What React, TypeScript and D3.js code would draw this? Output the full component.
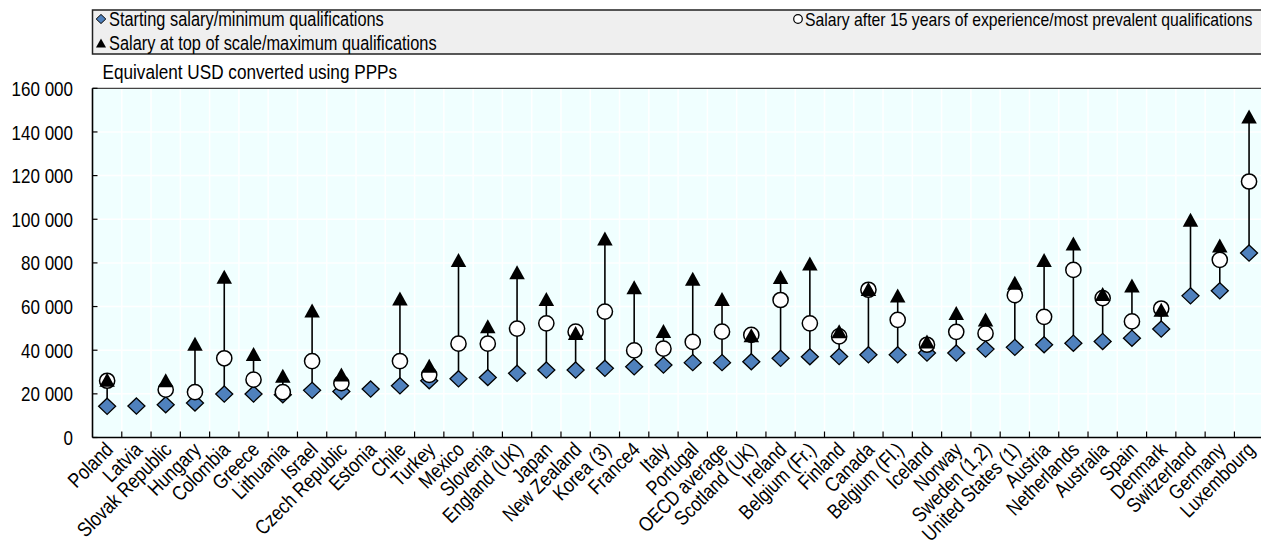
import React from "react";
import * as d3 from "d3";

const countries = [
  "Poland", "Latvia", "Slovak Republic", "Hungary", "Colombia", "Greece", "Lithuania", "Israel",
  "Czech Republic", "Estonia", "Chile", "Turkey", "Mexico", "Slovenia", "England (UK)", "Japan",
  "New Zealand", "Korea (3)", "France4", "Italy", "Portugal", "OECD average", "Scotland (UK)", "Ireland",
  "Belgium (Fr.)", "Finland", "Canada", "Belgium (Fl.)", "Iceland", "Norway", "Sweden (1,2)",
  "United States (1)", "Austria", "Netherlands", "Australia", "Spain", "Denmark", "Switzerland",
  "Germany", "Luxembourg",
];

const startingSalary = [
  14300, 14400, 15000, 15800, 19900, 19900, 19600, 21600, 21100, 22200, 23700, 26000, 26900, 27500,
  29400, 30900, 30900, 31700, 32400, 33200, 34300, 34300, 34700, 36300, 37000, 37100, 37900, 37900,
  38700, 38700, 40500, 41300, 42500, 43200, 44000, 45500, 49700, 64900, 67200, 84500,
];

const salary15 = [
  26000, null, 21900, 20800, 36300, 26500, 20800, 35000, 24900, null, 35000, 28700, 43000, 43000,
  49900, 52300, 48500, 57700, 39900, 40700, 43800, 48500, 47000, 63000, 52300, 46300, 67700, 53900,
  42500, 48400, 47700, 65200, 55300, 76800, 63900, 53200, 59100, null, 81400, 117300,
];

const salaryTop = [
  26500, null, 26200, 42900, 73600, 38300, 28300, 58200, 28900, null, 63700, 32900, 81300, 51000,
  75700, 63500, 47900, 91200, 68900, 48800, 72700, 63500, 46800, 73500, 79700, 48700, 68000, 65100,
  44000, 57100, 54100, 70900, 81300, 88900, 65700, 69700, 58500, 99800, 88000, 147100,
];

const yTicks = [0, 20000, 40000, 60000, 80000, 100000, 120000, 140000, 160000];

const legendLabels = [
  "Starting salary/minimum qualifications",
  "Salary after 15 years of experience/most prevalent qualifications",
  "Salary at top of scale/maximum qualifications",
];
const titleText = "Equivalent USD converted using PPPs";

const W = 1261;
const H = 545;
const FONT = "'Liberation Sans', Arial, sans-serif";
const BLUE = "#4F81BD";

const fmt = d3.formatLocale({ decimal: ".", thousands: " ", grouping: [3], currency: ["", ""] }).format(",");

function T(props: {
  x: number; y: number; size: number; sx: number; anchor?: string; rotate?: number; dy?: string; children: any;
}) {
  const { x, y, size, sx, anchor, rotate, dy, children } = props;
  return (
    <text
      transform={`translate(${x},${y})${rotate ? ` rotate(${rotate})` : ""} scale(${sx},1)`}
      fontSize={size}
      fontFamily={FONT}
      textAnchor={anchor || "start"}
      dy={dy}
      fill="#000"
    >
      {children}
    </text>
  );
}

const diamondPath = (s: number) => `M0,${-s * 0.95}L${s},0L0,${s * 0.95}L${-s},0Z`;
const trianglePath = (w: number, h: number) => `M0,${-h / 2}L${w / 2},${h / 2}L${-w / 2},${h / 2}Z`;

export default function App() {
  const left = 92.5, right = 1263.7, top = 88.3, bottom = 437.5;
  const x = d3.scaleBand<string>().domain(countries).range([left, right]).paddingInner(0).paddingOuter(0);
  const y = d3.scaleLinear().domain([0, 160000]).range([bottom, top]);
  const bw = x.bandwidth();
  const boundaries = countries.map((c) => (x(c) as number) + bw).slice(0, -1);

  return (
    <svg width={W} height={H} style={{ position: "absolute", left: 0, top: 0 }}>
      {/* Legend */}
      <rect x={92.5} y={10} width={1180} height={44} fill="#EFEFEF" stroke="#222" strokeWidth={1.5} />
      <path d={diamondPath(4.8)} transform="translate(101,19)" fill={BLUE} stroke="#000" strokeWidth={1} />
      <T x={109} y={25.5} size={19.5} sx={0.84}>{legendLabels[0]}</T>
      <circle cx={798} cy={19} r={4.3} fill="#fff" stroke="#000" strokeWidth={1.2} />
      <T x={805} y={25.5} size={19} sx={0.83}>{legendLabels[1]}</T>
      <path d={trianglePath(10, 9)} transform="translate(101,43)" fill="#000" />
      <T x={109} y={49.5} size={19.5} sx={0.84}>{legendLabels[2]}</T>

      {/* Title */}
      <T x={102.5} y={79.3} size={19.5} sx={0.88}>{titleText}</T>

      {/* Plot background */}
      <rect x={left} y={top} width={right - left} height={bottom - top} fill="#F0FFFF" />
      {yTicks.slice(1, -1).map((t) => (
        <line key={"hg" + t} x1={left} x2={right} y1={y(t)} y2={y(t)} stroke="#fff" strokeWidth={1.5} />
      ))}
      {boundaries.map((b, i) => (
        <line key={"vg" + i} x1={b} x2={b} y1={top} y2={bottom} stroke="#fff" strokeWidth={1.5} />
      ))}
      <line x1={left} x2={right} y1={top} y2={top} stroke="#444" strokeWidth={1.3} />

      {/* Axes */}
      <line x1={left} x2={left} y1={top} y2={bottom} stroke="#000" strokeWidth={1.6} />
      <line x1={left} x2={right} y1={bottom} y2={bottom} stroke="#000" strokeWidth={1.6} />
      {yTicks.map((t) => (
        <g key={"yt" + t}>
          <line x1={left} x2={left + 5} y1={y(t)} y2={y(t)} stroke="#000" strokeWidth={1.2} />
          <T x={73} y={y(t)} size={21} sx={0.81} anchor="end" dy="0.36em">{fmt(t)}</T>
        </g>
      ))}
      {boundaries.map((b, i) => (
        <line key={"xt" + i} x1={b} x2={b} y1={bottom} y2={bottom - 6} stroke="#000" strokeWidth={1.2} />
      ))}
      {countries.map((c) => (
        <T key={"xl" + c} x={(x(c) as number) + bw / 2 + 2} y={446} size={20.5} sx={0.84} anchor="end" rotate={-45} dy="0.35em">
          {c}
        </T>
      ))}

      {/* Range lines */}
      {countries.map((c, i) => {
        const vals = [startingSalary[i], salary15[i], salaryTop[i]].filter((v) => v != null) as number[];
        if (vals.length < 2) return null;
        const cx = (x(c) as number) + bw / 2;
        return (
          <line key={"rl" + c} x1={cx} x2={cx} y1={y(d3.min(vals) as number)} y2={y(d3.max(vals) as number)}
            stroke="#000" strokeWidth={1.6} />
        );
      })}

      {/* Markers */}
      {countries.map((c, i) => {
        const cx = (x(c) as number) + bw / 2;
        return (
          <path key={"d" + c} d={diamondPath(8.5)} transform={`translate(${cx},${y(startingSalary[i])})`}
            fill={BLUE} stroke="#000" strokeWidth={1.3} />
        );
      })}
      {countries.map((c, i) => {
        const v = salary15[i];
        if (v == null) return null;
        const cx = (x(c) as number) + bw / 2;
        return <circle key={"c" + c} cx={cx} cy={y(v)} r={7.6} fill="#fff" stroke="#000" strokeWidth={1.5} />;
      })}
      {countries.map((c, i) => {
        const v = salaryTop[i];
        if (v == null) return null;
        const cx = (x(c) as number) + bw / 2;
        return (
          <path key={"t" + c} d={trianglePath(15.5, 14)} transform={`translate(${cx},${y(v)})`} fill="#000" />
        );
      })}
    </svg>
  );
}
